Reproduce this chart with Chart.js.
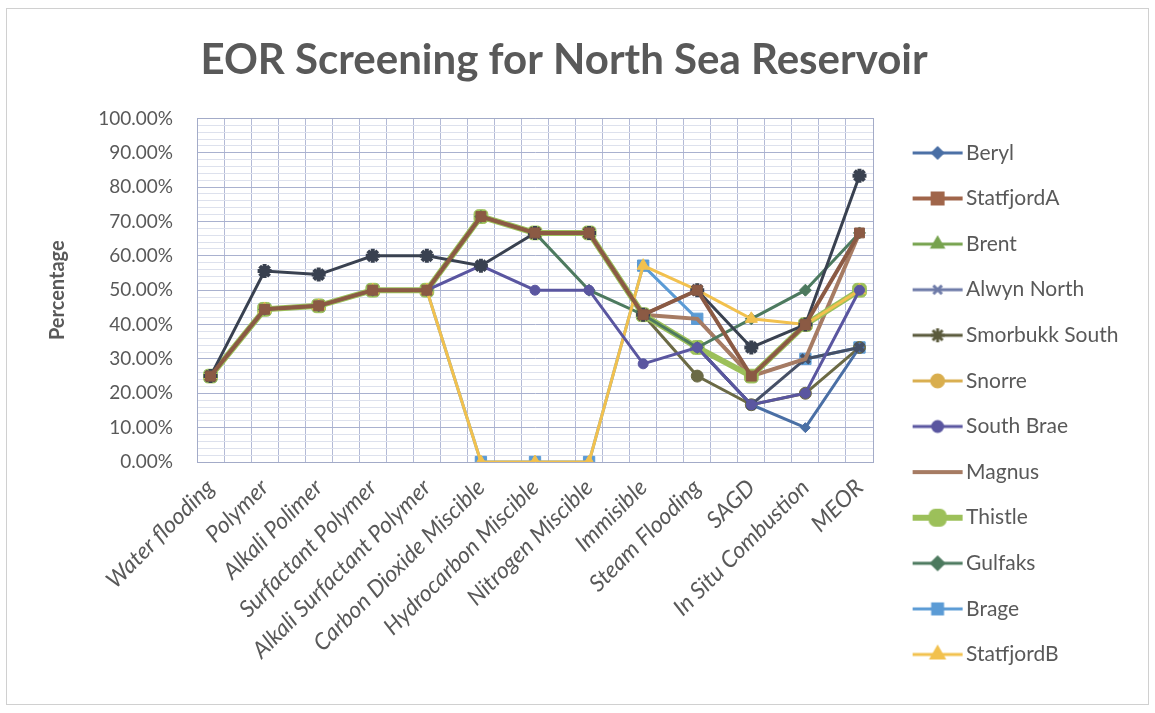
<!DOCTYPE html>
<html>
<head>
<meta charset="utf-8">
<script src="https://cdn.jsdelivr.net/npm/chart.js@4.4.1/dist/chart.umd.min.js"></script>
<style>
  html, body { margin: 0; padding: 0; background: #fff; }
  #wrap { position: relative; width: 1155px; height: 713px; }
  #frame { position: absolute; left: 6px; top: 8px; right: 6px; bottom: 8px; border: 1px solid #d0d0d0; pointer-events: none; }
</style>
</head>
<body>
<div id="wrap">
  <canvas id="eor-chart"></canvas>
  <div id="frame"></div>
</div>
<script>
// EOR screening results, one value per method (percent)
const methods = [
    'Water flooding', 'Polymer', 'Alkali Polimer', 'Surfactant Polymer',
    'Alkali Surfactant Polymer', 'Carbon Dioxide Miscible', 'Hydrocarbon Miscible',
    'Nitrogen Miscible', 'Immisible', 'Steam Flooding', 'SAGD', 'In Situ Combustion', 'MEOR'
];

const yTicks = [0, 10, 20, 30, 40, 50, 60, 70, 80, 90, 100];

const beryl        = [25, 44.44, 45.45, 50, 50, 71.43, 66.67, 66.67, 42.86, 33.33, 16.67, 10.00, 33.33];
const statfjordA   = [25, 44.44, 45.45, 50, 50, 71.43, 66.67, 66.67, 42.86, 50.00, 25.00, 40.00, 66.67];
const brent        = [25, 44.44, 45.45, 50, 50, 71.43, 66.67, 66.67, 42.86, 33.33, 25.00, 40.00, 50.00];
const alwynNorth   = [25, 44.44, 45.45, 50, 50, 71.43, 66.67, 66.67, 42.86, 33.33, 16.67, 30.00, 33.33];
const smorbukk     = [25, 55.56, 54.55, 60, 60, 57.14, 66.67, 66.67, 42.86, 50.00, 33.33, 40.00, 83.33];
const snorre       = [25, 44.44, 45.45, 50, 50, 71.43, 66.67, 66.67, 42.86, 25.00, 16.67, 20.00, 33.33];
const southBrae    = [25, 44.44, 45.45, 50, 50, 57.14, 50.00, 50.00, 28.57, 33.33, 16.67, 20.00, 50.00];
const magnus       = [25, 44.44, 45.45, 50, 50, 71.43, 66.67, 66.67, 42.86, 41.67, 25.00, 30.00, 66.67];
const thistle      = [25, 44.44, 45.45, 50, 50, 71.43, 66.67, 66.67, 42.86, 33.33, 25.00, 40.00, 50.00];
const gulfaks      = [25, 44.44, 45.45, 50, 50, 71.43, 66.67, 50.00, 42.86, 33.33, 41.67, 50.00, 66.67];
const brage        = [25, 44.44, 45.45, 50, 50, 0, 0, 0, 57.14, 41.67, 25.00, 30.00, 33.33];
const statfjordB   = [25, 44.44, 45.45, 50, 50, 0, 0, 0, 57.14, 50.00, 41.67, 40.00, 50.00];

const fields = [
    { name: 'Beryl',          data: beryl,      color: '#4a6fa5', style: 'rectRot',  radius: 5, width: 3, order: 9 },
    { name: 'StatfjordA',     data: statfjordA, color: '#8b5a44', style: 'rect',     radius: 7, width: 4, order: 0 },
    { name: 'Brent',          data: brent,      color: '#77a34e', style: 'triangle', radius: 6, width: 3, order: 8 },
    { name: 'Alwyn North',    data: alwynNorth, color: '#465066', style: 'crossRot', radius: 6, width: 3, order: 7 },
    { name: 'Smorbukk South', data: smorbukk,   color: '#394150', style: 'star',     radius: 7, width: 3, order: 1 },
    { name: 'Snorre',         data: snorre,     color: '#6b6a45', style: 'circle',   radius: 6, width: 3, order: 10 },
    { name: 'South Brae',     data: southBrae,  color: '#5a56a0', style: 'circle',   radius: 5, width: 3, order: 2 },
    { name: 'Magnus',         data: magnus,     color: '#a67b63', style: 'circle',   radius: 0, width: 4, order: 6 },
    { name: 'Thistle',        data: thistle,    color: '#9cc05a', style: 'rectRounded', radius: 8, width: 6, order: 5 },
    { name: 'Gulfaks',        data: gulfaks,    color: '#4d7a5f', style: 'rectRot',  radius: 6, width: 3, order: 4 },
    { name: 'Brage',          data: brage,      color: '#5b9bd5', style: 'rect',     radius: 8, width: 3, order: 11 },
    { name: 'StatfjordB',     data: statfjordB, color: '#f2c14e', style: 'triangle', radius: 7, width: 3, order: 3 }
];

const legendColors = ['#4a6fa5', '#a0654a', '#77a34e', '#6e7ba8', '#5a5a3c', '#d9ae4e',
                      '#5a56a0', '#a67b63', '#9cc05a', '#4d7a5f', '#5b9bd5', '#f2c14e'];

const textGrey = '#595959';
const LEGEND_W = 215;

// legend icons: line with the marker in the middle, drawn a bit right of centre
function makeLegendIcon(f, color) {
    const c = document.createElement('canvas');
    c.width = 76;
    c.height = 24;
    const g = c.getContext('2d');
    g.strokeStyle = color;
    g.lineWidth = f.width;
    g.beginPath();
    g.moveTo(24, 12);
    g.lineTo(74, 12);
    g.stroke();
    if (f.radius > 0) {
        g.fillStyle = color;
        g.strokeStyle = color;
        Chart.helpers.drawPoint(g, { pointStyle: f.style, rotation: 0, radius: Math.min(f.radius, 7), borderWidth: 2 }, 49, 12);
    }
    return c;
}

const legendIcons = fields.map((f, i) => makeLegendIcon(f, legendColors[i]));

const datasets = fields.map(f => ({
    label: f.name,
    data: f.data.map((v, i) => ({ x: i, y: v })),
    borderColor: f.color,
    backgroundColor: f.color,
    borderWidth: f.width,
    pointStyle: f.style,
    pointRadius: f.radius,
    pointBorderWidth: f.style === 'star' || f.style === 'crossRot' ? 4 : 1,
    pointBackgroundColor: f.color,
    pointBorderColor: f.color,
    tension: 0,
    order: f.order
}));

// legend column: fixed width for the layout, but let the text run to the canvas edge
const fixedLegend = {
    id: 'fixedLegend',
    beforeLayout(chart) {
        const lg = chart.legend;
        if (lg && !lg._fixed) {
            const fit = lg.fit.bind(lg);
            lg.fit = function() {
                fit();
                this.width = LEGEND_W;
            };
            lg._fixed = true;
        }
    },
    afterLayout(chart) {
        if (chart.legend) chart.legend.right = chart.width;
    }
};

const ctx = document.getElementById('eor-chart').getContext('2d');

new Chart(ctx, {
    type: 'line',
    data: { datasets: datasets },
    plugins: [fixedLegend],
    options: {
        responsive: true,
        maintainAspectRatio: false,
        animation: false,
        layout: { padding: { left: 40, right: 67, top: 0, bottom: 12 } },
        plugins: {
            title: {
                display: true,
                text: 'EOR Screening for North Sea Reservoir',
                color: textGrey,
                font: { family: 'Lato', size: 42, weight: 'bold' },
                padding: { top: 35, bottom: 33 }
            },
            legend: {
                display: true,
                position: 'right',
                title: {
                    display: true,
                    text: ' ',
                    font: { size: 2 },
                    padding: { top: 104, bottom: 0 }
                },
                labels: {
                    usePointStyle: true,
                    pointStyleWidth: 58,
                    boxHeight: 21,
                    padding: 24.6,
                    color: textGrey,
                    font: { family: 'Lato', size: 21 },
                    sort: (a, b) => a.datasetIndex - b.datasetIndex,
                    generateLabels: function(chart) {
                        const items = Chart.defaults.plugins.legend.labels.generateLabels(chart);
                        return items.map(item => ({ ...item, pointStyle: legendIcons[item.datasetIndex], rotation: 0 }));
                    }
                }
            },
            tooltip: { enabled: false }
        },
        scales: {
            x: {
                type: 'linear',
                min: -0.25,
                max: 12.25,
                afterBuildTicks: function(scale) {
                    scale.ticks = methods.map((m, i) => ({ value: i }));
                },
                afterFit: function(scale) {
                    scale.height = 239;
                },
                ticks: {
                    autoSkip: false,
                    maxRotation: 45,
                    minRotation: 45,
                    padding: 4,
                    color: textGrey,
                    font: { family: 'Lato', size: 23, style: 'italic' },
                    callback: function(value) {
                        return methods[value];
                    }
                },
                grid: { display: false },
                border: { display: true, color: '#a3abc8', width: 1 }
            },
            xg: {
                type: 'linear',
                position: 'top',
                min: -0.25,
                max: 12.25,
                afterBuildTicks: function(scale) {
                    const t = [];
                    for (let k = 0; k <= 25; k++) t.push({ value: -0.25 + k * 0.5 });
                    scale.ticks = t;
                },
                afterFit: function(scale) {
                    scale.height = 0;
                },
                ticks: { display: false },
                grid: { color: '#b3bad6', lineWidth: 1, drawTicks: false },
                border: { display: true, color: '#a3abc8' }
            },
            y: {
                min: 0,
                max: 100,
                afterBuildTicks: function(scale) {
                    scale.ticks = yTicks.map(v => ({ value: v }));
                },
                afterFit: function(scale) {
                    scale.width = 157;
                },
                title: {
                    display: true,
                    text: 'Percentage',
                    color: textGrey,
                    font: { family: 'Lato', size: 20, weight: 'bold' },
                    padding: { top: 6, bottom: 0 }
                },
                ticks: {
                    padding: 24,
                    color: textGrey,
                    font: { family: 'Lato', size: 19 },
                    callback: function(value) {
                        return value.toFixed(2) + '%';
                    }
                },
                grid: { color: '#a9b1cf', lineWidth: 1, drawTicks: false },
                border: { display: true, color: '#a3abc8' }
            },
            yg: {
                position: 'right',
                min: 0,
                max: 100,
                afterBuildTicks: function(scale) {
                    const t = [];
                    for (let v = 0; v <= 100; v += 2) t.push({ value: v });
                    scale.ticks = t;
                },
                afterFit: function(scale) {
                    scale.width = 0;
                },
                ticks: { display: false },
                grid: {
                    drawTicks: false,
                    color: c => (c.tick && c.tick.value % 10 === 0) ? 'rgba(0,0,0,0)' : '#dde1ed'
                },
                border: { display: true, color: '#a3abc8' }
            }
        }
    }
});
</script>
</body>
</html>
